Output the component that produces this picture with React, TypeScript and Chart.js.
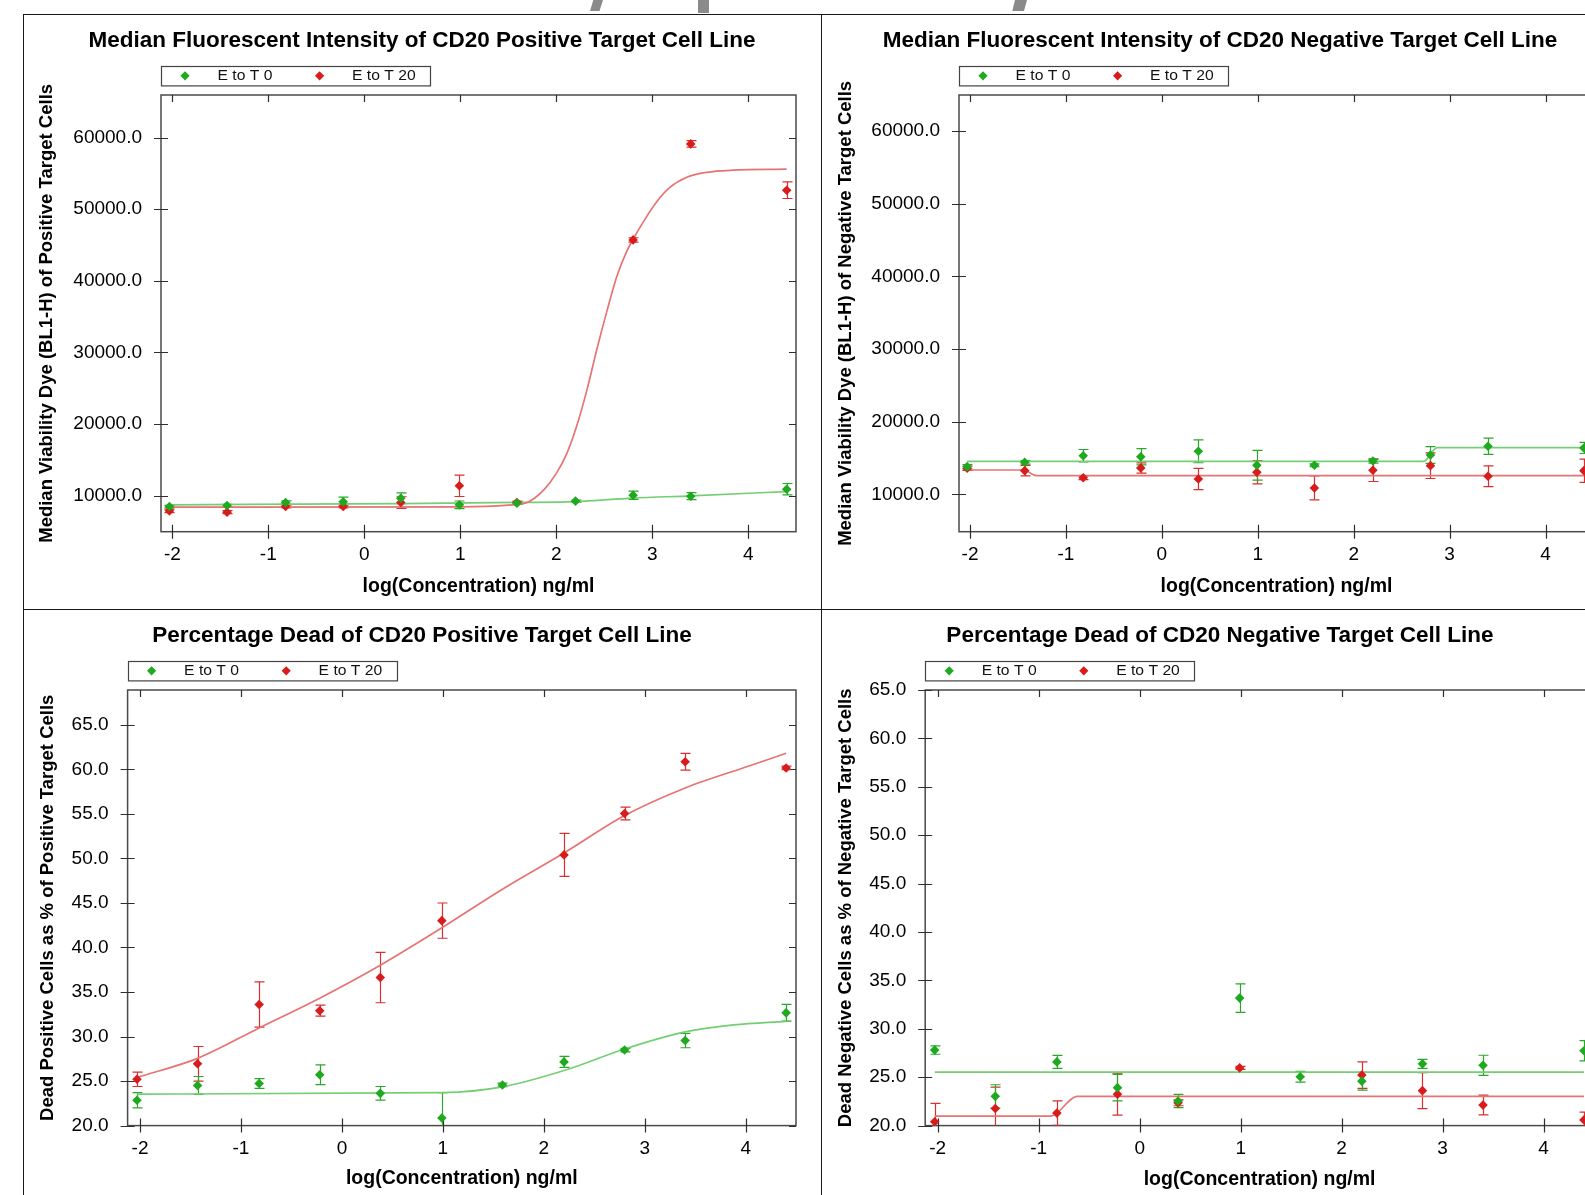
import React, { useEffect, useRef } from "react";
import { Chart, registerables } from "chart.js";

Chart.register(...registerables);

const FONT = "'Liberation Sans', Arial, Helvetica, sans-serif";
Chart.defaults.font.family = FONT;
Chart.defaults.color = "#000";

// ---------- shared data ----------
const LOG_CONC = [-2.03, -1.43, -0.82, -0.22, 0.38, 0.99, 1.59, 2.2, 2.8, 3.4, 4.4];
const SERIES_LABELS = ["E to T 0", "E to T 20"];
const X_TITLE = "log(Concentration) ng/ml";
const X_TICKS = [-2, -1, 0, 1, 2, 3, 4];
const MFI_TICKS = [10000, 20000, 30000, 40000, 50000, 60000];
const DEAD_TICKS = [20, 25, 30, 35, 40, 45, 50, 55, 60, 65];

// ---------- panel A: MFI, CD20 positive ----------
const POS_MFI_TITLE = "Median Fluorescent Intensity of CD20 Positive Target Cell Line";
const POS_MFI_YTITLE = "Median Viability Dye (BL1-H) of Positive Target Cells";
const POS_MFI_T0 = [8460, 8600, 9020, 9120, 9630, 8700, 8940, 9220, 10050, 9910, 10890];
const POS_MFI_T0_ERR = [180, 180, 230, 650, 750, 540, 180, 150, 580, 490, 790];
const POS_MFI_T20 = [7860, 7680, 8460, 8460, 9020, 11360, 9020, null, 45710, 59120, 52650];
const POS_MFI_T20_ERR = [250, 200, 200, 200, 810, 1490, 200, 0, 300, 460, 1160];
const POS_MFI_FIT0_X = [-2.03, 0.38, 1.59, 2.2, 2.8, 3.4, 4.4];
const POS_MFI_FIT0_Y = [8700, 8880, 9040, 9150, 9650, 9950, 10560];
const POS_MFI_FIT20_X = [-2.03, 1.0, 1.5, 1.69, 1.87, 2.0, 2.11, 2.21, 2.32, 2.42, 2.53, 2.63, 2.73, 2.8, 2.91, 3.05, 3.18, 3.36, 3.57, 3.84, 4.4];
const POS_MFI_FIT20_Y = [8380, 8420, 8650, 9000, 10800, 13100, 15900, 19600, 24800, 30300, 35900, 40600, 44000, 45800, 48300, 51100, 53000, 54450, 55150, 55450, 55590];

// ---------- panel B: MFI, CD20 negative ----------
const NEG_MFI_TITLE = "Median Fluorescent Intensity of CD20 Negative Target Cell Line";
const NEG_MFI_YTITLE = "Median Viability Dye (BL1-H) of Negative Target Cells";
const NEG_MFI_T0 = [13800, 14400, 15310, 15170, 15920, 13990, 13990, 14580, 15410, 16600, 16370];
const NEG_MFI_T0_ERR = [300, 250, 850, 1120, 1580, 2040, 200, 300, 1150, 1120, 760];
const NEG_MFI_T20 = [13580, 13250, 12280, 13620, 12100, 13030, 10870, 13300, 13940, 12480, 13250];
const NEG_MFI_T20_ERR = [300, 730, 250, 700, 1470, 1600, 1650, 1540, 1770, 1420, 1600];
const NEG_MFI_FIT0_X = [-2.03, 2.73, 2.87, 4.4];
const NEG_MFI_FIT0_Y = [14540, 14540, 16410, 16410];
const NEG_MFI_FIT20_X = [-2.03, -1.44, -1.31, 4.4];
const NEG_MFI_FIT20_Y = [13340, 13340, 12560, 12560];

// ---------- panel C: % dead, CD20 positive ----------
const POS_DEAD_TITLE = "Percentage Dead of CD20 Positive Target Cell Line";
const POS_DEAD_YTITLE = "Dead Positive Cells as % of Positive Target Cells";
const POS_DEAD_T0 = [22.85, 24.51, 24.73, 25.71, 23.62, 20.85, 24.56, 27.15, 28.48, 29.55, 32.66];
const POS_DEAD_T0_ERR = [0.85, 1.0, 0.55, 1.11, 0.77, 2.85, 0.2, 0.62, 0.2, 0.81, 0.94];
const POS_DEAD_T20 = [25.2, 26.94, 33.59, 32.9, 36.62, 43.01, null, 50.39, 55.03, 60.84, 60.15];
const POS_DEAD_T20_ERR = [0.81, 1.94, 2.54, 0.62, 2.83, 1.98, 0, 2.41, 0.72, 0.94, 0.2];
const POS_DEAD_FIT0_X = [-2.03, 0.99, 1.59, 2.2, 2.8, 3.4, 3.88, 4.4];
const POS_DEAD_FIT0_Y = [23.54, 23.7, 24.35, 26.18, 28.6, 30.52, 31.3, 31.71];
const POS_DEAD_FIT20_X = [-2.03, -1.43, -0.82, -0.22, 0.38, 0.99, 1.57, 2.2, 2.8, 3.4, 4.04, 4.4];
const POS_DEAD_FIT20_Y = [25.41, 27.55, 30.96, 34.3, 38.0, 42.2, 46.4, 50.6, 54.8, 57.9, 60.4, 61.8];

// ---------- panel D: % dead, CD20 negative ----------
const NEG_DEAD_TITLE = "Percentage Dead of CD20 Negative Target Cell Line";
const NEG_DEAD_YTITLE = "Dead Negative Cells as % of Negative Target Cells";
const NEG_DEAD_T0 = [27.8, 23.02, 26.58, 23.92, 22.54, 33.17, 25.05, 24.59, 26.38, 26.23, 27.73];
const NEG_DEAD_T0_ERR = [0.43, 1.2, 0.67, 1.37, 0.69, 1.47, 0.55, 0.92, 0.47, 1.04, 1.04];
const NEG_DEAD_T20 = [20.39, 21.77, 21.29, 23.25, 22.35, 25.96, null, 25.22, 23.61, 22.12, 20.59];
const NEG_DEAD_T20_ERR = [1.9, 2.2, 1.27, 2.16, 0.3, 0.15, 0, 1.37, 1.86, 1.02, 0.8];
const NEG_DEAD_FIT0_X = [-2.03, 4.4];
const NEG_DEAD_FIT0_Y = [25.53, 25.53];
const NEG_DEAD_FIT20_X = [-2.03, -0.88, -0.62, 4.4];
const NEG_DEAD_FIT20_Y = [20.98, 20.98, 23.02, 23.02];

// ---------- styles ----------
const GREEN = "#1fa91f";
const RED = "#d81c1c";
const GREEN_ERR = "#2aa82a";
const RED_ERR = "#d63030";
const GREEN_FIT = "#74cf74";
const RED_FIT = "#e77373";
const FRAME = "#4a4a4a";

type Panel = {
  left: number; top: number; width: number; height: number;
  plotLeft: number; xAxisH: number; yTitlePad: number; xTitlePad: number;
  xMin: number; xMax: number; yMin: number; yMax: number; yTicks: number[];
  title: string; yTitle: string;
  t0: (number | null)[]; t0Err: number[]; t20: (number | null)[]; t20Err: number[];
  fit0X: number[]; fit0Y: number[]; fit20X: number[]; fit20Y: number[];
};

const PANELS: Panel[] = [
  {
    left: 23, top: 14, width: 798, height: 595, plotLeft: 138, xAxisH: 77.3, yTitlePad: 12.4, xTitlePad: 10.6,
    xMin: -2.118, xMax: 4.497, yMin: 4950, yMax: 65950, yTicks: MFI_TICKS,
    title: POS_MFI_TITLE, yTitle: POS_MFI_YTITLE,
    t0: POS_MFI_T0, t0Err: POS_MFI_T0_ERR, t20: POS_MFI_T20, t20Err: POS_MFI_T20_ERR,
    fit0X: POS_MFI_FIT0_X, fit0Y: POS_MFI_FIT0_Y, fit20X: POS_MFI_FIT20_X, fit20Y: POS_MFI_FIT20_Y,
  },
  {
    left: 821, top: 14, width: 798, height: 595, plotLeft: 138, xAxisH: 77.3, yTitlePad: 13.9, xTitlePad: 10.6,
    xMin: -2.115, xMax: 4.505, yMin: 4850, yMax: 64950, yTicks: MFI_TICKS,
    title: NEG_MFI_TITLE, yTitle: NEG_MFI_YTITLE,
    t0: NEG_MFI_T0, t0Err: NEG_MFI_T0_ERR, t20: NEG_MFI_T20, t20Err: NEG_MFI_T20_ERR,
    fit0X: NEG_MFI_FIT0_X, fit0Y: NEG_MFI_FIT0_Y, fit20X: NEG_MFI_FIT20_X, fit20Y: NEG_MFI_FIT20_Y,
  },
  {
    left: 23, top: 609, width: 798, height: 586, plotLeft: 104.6, xAxisH: 69.4, yTitlePad: 13.4, xTitlePad: 4.6,
    xMin: -2.123, xMax: 4.498, yMin: 20, yMax: 68.9, yTicks: DEAD_TICKS,
    title: POS_DEAD_TITLE, yTitle: POS_DEAD_YTITLE,
    t0: POS_DEAD_T0, t0Err: POS_DEAD_T0_ERR, t20: POS_DEAD_T20, t20Err: POS_DEAD_T20_ERR,
    fit0X: POS_DEAD_FIT0_X, fit0Y: POS_DEAD_FIT0_Y, fit20X: POS_DEAD_FIT20_X, fit20Y: POS_DEAD_FIT20_Y,
  },
  {
    left: 821, top: 609, width: 798, height: 586, plotLeft: 104.2, xAxisH: 69.4, yTitlePad: 13.9, xTitlePad: 3.8,
    xMin: -2.124, xMax: 4.499, yMin: 20, yMax: 65, yTicks: DEAD_TICKS,
    title: NEG_DEAD_TITLE, yTitle: NEG_DEAD_YTITLE,
    t0: NEG_DEAD_T0, t0Err: NEG_DEAD_T0_ERR, t20: NEG_DEAD_T20, t20Err: NEG_DEAD_T20_ERR,
    fit0X: NEG_DEAD_FIT0_X, fit0Y: NEG_DEAD_FIT0_Y, fit20X: NEG_DEAD_FIT20_X, fit20Y: NEG_DEAD_FIT20_Y,
  },
];

// ---------- plugins ----------
const framePlugin = {
  id: "frameTicks",
  beforeDatasetsDraw(chart: any) {
    const { ctx, chartArea: a, scales } = chart;
    const x = scales.x, y = scales.y;
    ctx.save();
    ctx.strokeStyle = FRAME;
    ctx.lineWidth = 1.5;
    ctx.strokeRect(a.left, a.top, a.right - a.left, a.bottom - a.top);
    ctx.lineWidth = 1.2;
    ctx.strokeStyle = "#2e2e2e";
    ctx.beginPath();
    x.ticks.forEach((t: any) => {
      const px = Math.round(x.getPixelForValue(t.value)) + 0.5;
      ctx.moveTo(px, a.bottom - 7); ctx.lineTo(px, a.bottom + 7);
      ctx.moveTo(px, a.top); ctx.lineTo(px, a.top + 7);
    });
    y.ticks.forEach((t: any) => {
      const py = Math.round(y.getPixelForValue(t.value)) + 0.5;
      ctx.moveTo(a.left - 7, py); ctx.lineTo(a.left + 7, py);
      ctx.moveTo(a.right - 7, py); ctx.lineTo(a.right, py);
    });
    ctx.stroke();
    ctx.restore();
  },
};

const errorBarPlugin = {
  id: "errorBars",
  beforeDatasetsDraw(chart: any) {
    const { ctx, chartArea: a, scales } = chart;
    const x = scales.x, y = scales.y;
    ctx.save();
    ctx.beginPath();
    ctx.rect(a.left, a.top, a.right - a.left, a.bottom - a.top);
    ctx.clip();
    chart.data.datasets.forEach((ds: any) => {
      if (!ds.errorColor) return;
      ctx.strokeStyle = ds.errorColor;
      ctx.lineWidth = 1.2;
      ds.data.forEach((p: any) => {
        if (!p.err) return;
        const px = Math.round(x.getPixelForValue(p.x)) + 0.5;
        const yt = y.getPixelForValue(p.y + p.err);
        const yb = y.getPixelForValue(p.y - p.err);
        ctx.beginPath();
        ctx.moveTo(px, yt); ctx.lineTo(px, yb);
        ctx.moveTo(px - 5, yt); ctx.lineTo(px + 5, yt);
        ctx.moveTo(px - 5, yb); ctx.lineTo(px + 5, yb);
        ctx.stroke();
      });
    });
    ctx.restore();
  },
};

const boxLegendPlugin = {
  id: "boxLegend",
  afterDraw(chart: any, _args: any, opts: any) {
    const { ctx, chartArea: a } = chart;
    const left = a.left, top = opts.top, w = opts.width, h = opts.height;
    ctx.save();
    ctx.fillStyle = "#fff";
    ctx.fillRect(left, top, w, h);
    ctx.strokeStyle = "#444";
    ctx.lineWidth = 1.2;
    ctx.strokeRect(Math.round(left) + 0.5, Math.round(top) + 0.5, w, h);
    const cy = top + h / 2 + 0.5;
    opts.items.forEach((it: any) => {
      const cx = left + it.markX;
      const r = 4.6;
      ctx.fillStyle = it.color;
      ctx.beginPath();
      ctx.moveTo(cx, cy - r); ctx.lineTo(cx + r, cy); ctx.lineTo(cx, cy + r); ctx.lineTo(cx - r, cy);
      ctx.closePath();
      ctx.fill();
      ctx.save();
      ctx.translate(left + it.textX, cy);
      ctx.scale(1.12, 1);
      ctx.font = `14px ${FONT}`;
      ctx.fillStyle = "#111";
      ctx.textBaseline = "middle";
      ctx.textAlign = "left";
      ctx.fillText(it.label, 0, 0);
      ctx.restore();
    });
    ctx.restore();
  },
};

function points(vals: (number | null)[], errs: number[]) {
  const out: any[] = [];
  vals.forEach((v, i) => {
    if (v !== null) out.push({ x: LOG_CONC[i], y: v, err: errs[i] });
  });
  return out;
}

function curve(xs: number[], ys: number[]) {
  return xs.map((x, i) => ({ x, y: ys[i] }));
}

function buildConfig(p: Panel): any {
  return {
    type: "scatter",
    data: {
      datasets: [
        {
          label: "fit " + SERIES_LABELS[0], data: curve(p.fit0X, p.fit0Y), showLine: true,
          borderColor: GREEN_FIT, borderWidth: 1.7, pointRadius: 0, cubicInterpolationMode: "monotone", order: 5,
        },
        {
          label: "fit " + SERIES_LABELS[1], data: curve(p.fit20X, p.fit20Y), showLine: true,
          borderColor: RED_FIT, borderWidth: 1.7, pointRadius: 0, cubicInterpolationMode: "monotone", order: 4,
        },
        {
          label: SERIES_LABELS[1], data: points(p.t20, p.t20Err), pointStyle: "rectRot", pointRadius: 4.8,
          backgroundColor: RED, borderColor: RED, borderWidth: 0, errorColor: RED_ERR, order: 2,
        },
        {
          label: SERIES_LABELS[0], data: points(p.t0, p.t0Err), pointStyle: "rectRot", pointRadius: 4.8,
          backgroundColor: GREEN, borderColor: GREEN, borderWidth: 0, errorColor: GREEN_ERR, order: 1,
        },
      ],
    },
    options: {
      responsive: false,
      animation: false,
      devicePixelRatio: 1,
      events: [],
      layout: { padding: 0 },
      plugins: {
        legend: { display: false },
        tooltip: { enabled: false },
        title: {
          display: true, text: p.title, color: "#000",
          font: { family: FONT, size: 22.5, weight: "bold" },
          padding: { top: 12.9, bottom: 41.1 },
        },
        boxLegend: {
          top: 51.6, width: 269, height: 19.4,
          items: [
            { label: SERIES_LABELS[0], color: GREEN, markX: 24, textX: 56.5 },
            { label: SERIES_LABELS[1], color: RED, markX: 158.6, textX: 191 },
          ],
        },
      },
      scales: {
        x: {
          type: "linear", position: "bottom", min: p.xMin, max: p.xMax,
          grid: { display: false, drawTicks: false }, border: { display: false },
          afterBuildTicks: (s: any) => { s.ticks = X_TICKS.map((v) => ({ value: v })); },
          afterFit: (s: any) => { s.height = p.xAxisH; },
          ticks: {
            padding: 12, color: "#000", font: { family: FONT, size: 19 }, maxRotation: 0, autoSkip: false,
            callback: (v: any) => String(v),
          },
          title: {
            display: true, text: X_TITLE, color: "#000",
            font: { family: FONT, size: 19.5, weight: "bold" },
            padding: { top: 0, bottom: p.xTitlePad },
          },
        },
        y: {
          type: "linear", position: "left", min: p.yMin, max: p.yMax,
          grid: { display: false, drawTicks: false }, border: { display: false },
          afterBuildTicks: (s: any) => { s.ticks = p.yTicks.map((v) => ({ value: v })); },
          afterFit: (s: any) => { s.width = p.plotLeft; },
          ticks: {
            padding: 19, color: "#000", font: { family: FONT, size: 19 }, autoSkip: false,
            callback: (v: any) => Number(v).toFixed(1),
          },
          title: {
            display: true, text: p.yTitle, color: "#000",
            font: { family: FONT, size: 18.5, weight: "bold" },
            padding: { top: p.yTitlePad, bottom: 0 },
          },
        },
        // empty right-hand spacer axis: keeps the plot's right edge while the title stays centred on the panel
        yRight: {
          type: "linear", position: "right", min: 0, max: 1,
          grid: { display: false, drawTicks: false }, border: { display: false },
          ticks: { display: false },
          afterFit: (s: any) => { s.width = p.width - 773; },
        },
      },
    },
    plugins: [framePlugin, errorBarPlugin, boxLegendPlugin],
  };
}

function PanelChart({ panel }: { panel: Panel }) {
  const ref = useRef<HTMLCanvasElement>(null);
  useEffect(() => {
    if (!ref.current) return;
    const chart = new Chart(ref.current, buildConfig(panel));
    return () => chart.destroy();
  }, [panel]);
  return (
    <canvas
      ref={ref}
      width={panel.width}
      height={panel.height}
      style={{ position: "absolute", left: panel.left, top: panel.top, width: panel.width, height: panel.height }}
    />
  );
}

const line = (l: number, t: number, w: number, h: number): React.CSSProperties => ({
  position: "absolute", left: l, top: t, width: w, height: h, background: "#1a1a1a", zIndex: 2,
});

export default function App() {
  return (
    <div style={{ position: "fixed", left: 0, top: 0, width: 1585, height: 1195, overflow: "hidden", background: "#fff" }}>
      {PANELS.map((p, i) => (
        <PanelChart key={i} panel={p} />
      ))}
      <div style={line(23, 14, 1562, 1)} />
      <div style={line(23, 14, 1, 1181)} />
      <div style={line(821, 14, 1, 1181)} />
      <div style={line(23, 609, 1562, 1)} />
      <div style={{ position: "absolute", left: 589, top: 0, width: 15, height: 11, background: "#8a8a8a", clipPath: "polygon(4.3px 0, 14px 0, 10.5px 11px, 1px 11px)" }} />
      <div style={{ position: "absolute", left: 698, top: 0, width: 11, height: 13, background: "#8a8a8a" }} />
      <div style={{ position: "absolute", left: 1011, top: 0, width: 17, height: 11, background: "#8a8a8a", clipPath: "polygon(4px 0, 16px 0, 13px 11px, 1.3px 11px)" }} />
    </div>
  );
}
